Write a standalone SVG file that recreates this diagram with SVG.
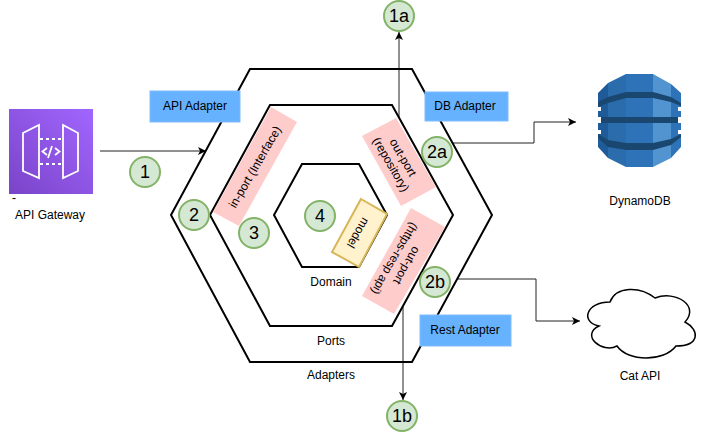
<svg xmlns="http://www.w3.org/2000/svg" width="706" height="432" viewBox="0 0 706 432">
<style>
text{font-family:"Liberation Sans",Arial,sans-serif;font-size:12px;fill:#000;text-anchor:middle}
.hex{fill:none;stroke:#000;stroke-width:2}
.ad{fill:#66b2ff;stroke:#7ebcff;stroke-width:1}
.port{fill:#ffcccc}
.c{fill:#d5e8d4;stroke:#82b366;stroke-width:2}
.n{font-size:18px}
.con{fill:none;stroke:#222;stroke-width:1;marker-end:url(#a)}
</style>
<defs>
<marker id="a" markerWidth="10" markerHeight="10" refX="8" refY="4" orient="auto" markerUnits="userSpaceOnUse"><path d="M0 0L8 4L0 8L2 4Z" fill="#000"/></marker>
<linearGradient id="pg" x1="0" y1="1" x2="1" y2="0"><stop offset="0" stop-color="#7a44c8"/><stop offset="1" stop-color="#a166ff"/></linearGradient>
</defs>
<g id="connectors">
<path class="con" d="M100 151H206"/>
<path class="con" d="M399 118V32"/>
<path class="con" d="M453 143H534V122H576"/>
<path class="con" d="M403 307V400"/>
<path class="con" d="M458 279H536V321H580"/>
</g>
<g id="adapters-hex"><path class="hex" d="M250 69H412L492 215L412 362H250L171 215Z"/><text x="331" y="379">Adapters</text></g>
<g id="ports-hex"><path class="hex" d="M270 105H392L453 215L392 326H270L210 215Z"/><text x="331" y="345">Ports</text></g>
<g id="domain-hex"><path class="hex" d="M302 164H359L387 215L359 267H302L274 215Z"/><text x="331" y="286">Domain</text></g>
<g id="api-gateway">
<rect x="9" y="109" width="84" height="85" fill="url(#pg)"/>
<g fill="none" stroke="#fff" stroke-width="1.800">
<path d="M23 133L39 125V178L23 171ZM78 133L63 125V178L78 171Z"/>
<path d="M40 139H62M40 164H62" stroke-dasharray="3 3"/>
<path d="M47 148L42.500 151.500L47 155M55 148L59.500 151.500L55 155M52 146L48 158"/>
</g>
<text x="50" y="219">API Gateway</text>
<text x="14" y="202" font-size="8">-</text>
</g>
<g id="api-adapter"><rect class="ad" x="150" y="91" width="90" height="31"/><text x="195" y="110">API Adapter</text></g>
<g id="db-adapter"><rect class="ad" x="425" y="92" width="83" height="29"/><text x="465" y="110">DB Adapter</text></g>
<g id="rest-adapter"><rect class="ad" x="420" y="315" width="91" height="31"/><text x="465" y="334">Rest Adapter</text></g>
<g id="in-port"><path class="port" d="M271 107L297 122L239 226L213 212Z"/><text transform="translate(255 167) rotate(-60)" y="4">in-port (Interface)</text></g>
<g id="out-port-repo"><path class="port" d="M396 118L436 187L401 206L362 136Z"/><g transform="translate(397 161) rotate(60)"><text y="-3">out-port</text><text y="11">(repository)</text></g></g>
<g id="out-port-rest"><path class="port" d="M411 208L445 227L394 314L362 296Z"/><g transform="translate(400.500 262) rotate(120)"><text y="-3">out-port</text><text y="11">(https-resp api)</text></g></g>
<g id="model"><path d="M361 199L387 214L359 267L332 252Z" fill="#fff2cc" stroke="#d6b656" stroke-width="2"/><text transform="translate(358 233) rotate(120)" y="4">model</text></g>
<g id="n1"><circle class="c" cx="145" cy="172" r="15"/><text class="n" x="145" y="178">1</text></g>
<g id="n2"><circle class="c" cx="194" cy="215" r="15"/><text class="n" x="194" y="221">2</text></g>
<g id="n3"><circle class="c" cx="254" cy="233" r="15"/><text class="n" x="254" y="239">3</text></g>
<g id="n4"><circle class="c" cx="320" cy="216" r="15"/><text class="n" x="320" y="222">4</text></g>
<g id="n2a"><circle class="c" cx="437" cy="152" r="15"/><text class="n" x="437" y="158">2a</text></g>
<g id="n2b"><circle class="c" cx="435" cy="282" r="15"/><text class="n" x="435" y="288">2b</text></g>
<g id="n1a"><circle class="c" cx="399" cy="16" r="15"/><text class="n" x="399" y="22">1a</text></g>
<g id="n1b"><circle class="c" cx="402" cy="416" r="15"/><text class="n" x="402" y="422">1b</text></g>
<g id="dynamodb">
<path d="M626 74H653V167H626Z" fill="#2e73b8"/>
<path d="M626 74L608 83V158L626 167Z" fill="#2b6cac"/>
<path d="M608 83L598 93V147L608 158Z" fill="#205b99"/>
<path d="M653 74L671 84V158L653 167Z" fill="#5294cf"/>
<path d="M671 84L681 93V147L671 158Z" fill="#2e73b8"/>
<path d="M608 97L626 92H653L671 97L681 103V106L671 102L653 98H626L608 103L598 107V102ZM601 117H679V123H601ZM608 140L626 143H653L671 139L681 134V137L671 145L653 150H626L608 147L598 138V134Z" fill="#1a476f"/>
<path d="M598 107H601V111H598ZM598 117H601V123H598ZM598 130H601V134H598ZM678 107H681V111H678ZM678 117H681V123H678ZM678 130H681V134H678Z" fill="#fff"/>
<text x="640" y="205">DynamoDB</text>
</g>
<g id="cat-api">
<path d="M610 302C586 302 580 322 599 326C580 335 602 354 617 346C628 362 664 362 676 346C700 346 700 330 685 322C700 306 676 290 655 298C640 286 616 286 610 302Z" fill="#fff" stroke="#000" stroke-width="1.500"/>
<text x="640" y="380">Cat API</text>
</g>
</svg>
